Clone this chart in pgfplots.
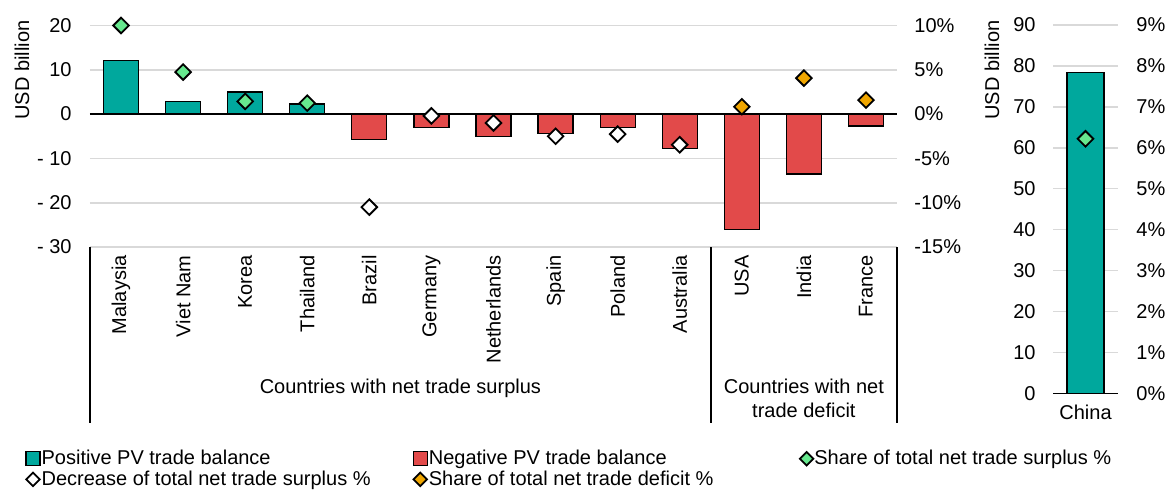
\documentclass[border=0pt]{standalone}
\usepackage{pgfplots}
\pgfplotsset{compat=1.18}
\usepackage{fontspec}
\setmainfont{Liberation Sans}
\definecolor{teal1}{RGB}{0,168,157}
\definecolor{red1}{RGB}{226,74,74}
\definecolor{green1}{RGB}{102,232,142}
\definecolor{orange1}{RGB}{240,166,0}
\definecolor{grid1}{RGB}{217,217,217}
\pgfplotsset{
  diam/.style={only marks, mark=square*, mark size=2.75pt, mark options={rotate=45, draw=black, line width=0.9pt, fill=#1}},
  diamleg/.style={legend image code/.code={\draw[##1, mark size=2.4pt] plot coordinates {(3.5pt,0pt)};}},
  barleg/.style={legend image code/.code={\draw[##1] (0pt,-3.5pt) rectangle (7pt,3.5pt);}},
  barst/.style={ybar, bar width=#1, bar shift=0pt, draw=black, line width=0.6pt},
}
\begin{document}
\begin{tikzpicture}
\path[use as bounding box] (0,0) rectangle (584pt,244.5pt);
% ---------- left panel, USD ----------
\begin{axis}[
  at={(45pt,121pt)}, anchor=south west,
  scale only axis, width=403.5pt, height=110.75pt,
  xmin=-0.5, xmax=12.5, ymin=-30, ymax=20,
  axis x line*=bottom, axis y line*=left, axis line style={draw=none},
  major tick length=0pt,
  ytick={-30,-20,-10,0,10,20},
  yticklabels={- 30,- 20,- 10,0,10,20},
  yticklabel style={inner sep=0pt}, yticklabel shift=9pt,
  xtick={0,...,12},
  xticklabels={Malaysia,Viet Nam,Korea,Thailand,Brazil,Germany,Netherlands,Spain,Poland,Australia,USA,India,France},
  xticklabel style={rotate=90, anchor=east, inner sep=0pt}, xticklabel shift=4pt,
  ymajorgrids, major grid style={grid1, line width=0.8pt},
  clip=false,
  legend columns=3,
  legend style={at={(axis description cs:-0.0805,-0.91)}, anchor=north west, draw=none, fill=none, inner sep=0pt, row sep=0.6pt, column sep=0pt, nodes={inner sep=0.5pt}},
  legend cell align=left,
]
\addplot[barst=17.5pt, fill=teal1, barleg] coordinates {(0,12.1)(1,2.9)(2,5.0)(3,2.3)};
\addlegendentry{\makebox[185pt][l]{Positive PV trade balance}}
\addplot[barst=17.5pt, fill=red1, barleg] coordinates {(4,-5.7)(5,-3.0)(6,-5.0)(7,-4.3)(8,-3.1)(9,-7.7)(10,-26.0)(11,-13.5)(12,-2.7)};
\addlegendentry{\makebox[185pt][l]{Negative PV trade balance}}
\addlegendimage{diam=green1, diamleg}
\addlegendentry{Share of total net trade surplus \%}
\addlegendimage{diam=white, diamleg}
\addlegendentry{\makebox[185pt][l]{Decrease of total net trade surplus \%}}
\addlegendimage{diam=orange1, diamleg}
\addlegendentry{Share of total net trade deficit \%}
\draw[black, line width=0.8pt] (axis cs:-0.5,0) -- (axis cs:12.5,0);
\draw[black, line width=0.8pt] (axis cs:-0.5,-30) -- ++(0pt,-88pt);
\draw[black, line width=0.8pt] (axis cs:9.5,-30) -- ++(0pt,-88pt);
\draw[black, line width=0.8pt] (axis cs:12.5,-30) -- ++(0pt,-88pt);
\node[anchor=base, inner sep=0pt] at ([yshift=-73pt]axis cs:4.5,-30) {Countries with net trade surplus};
\node[anchor=base, inner sep=0pt] at ([yshift=-73pt]axis cs:11,-30) {Countries with net};
\node[anchor=base, inner sep=0pt] at ([yshift=-85pt]axis cs:11,-30) {trade deficit};
\end{axis}
% ---------- left panel, percent ----------
\begin{axis}[
  at={(45pt,121pt)}, anchor=south west,
  scale only axis, width=403.5pt, height=110.75pt,
  xmin=-0.5, xmax=12.5, ymin=-15, ymax=10,
  axis x line=none, axis y line*=right, axis line style={draw=none},
  major tick length=0pt,
  ytick={-15,-10,-5,0,5,10},
  yticklabels={-15\%,-10\%,-5\%,0\%,5\%,10\%},
  yticklabel style={inner sep=0pt}, yticklabel shift=8.5pt,
  clip=false,
]
\addplot[diam=green1] coordinates {(0,10.0)(1,4.74)(2,1.43)(3,1.24)};
\addplot[diam=white] coordinates {(4,-10.5)(5,-0.2)(6,-1.0)(7,-2.5)(8,-2.26)(9,-3.46)};
\addplot[diam=orange1] coordinates {(10,0.83)(11,4.06)(12,1.58)};
\end{axis}
% ---------- China panel, USD ----------
\begin{axis}[
  at={(526.5pt,47.85pt)}, anchor=south west,
  scale only axis, width=32.5pt, height=184.15pt,
  xmin=-0.5, xmax=0.5, ymin=0, ymax=90,
  axis x line*=bottom, axis y line*=left,
  y axis line style={draw=none}, x axis line style={black, line width=0.8pt, -},
  major tick length=0pt,
  ytick={0,10,20,30,40,50,60,70,80,90},
  yticklabels={0,10,20,30,40,50,60,70,80,90},
  yticklabel style={inner sep=0pt}, yticklabel shift=8.5pt,
  xtick={0}, xticklabels={China},
  xticklabel style={inner sep=0pt}, xticklabel shift=5.8pt,
  ymajorgrids, major grid style={grid1, line width=0.8pt},
  clip=false,
]
\addplot[barst=18.5pt, fill=teal1] coordinates {(0,78.4)};
\end{axis}
% ---------- China panel, percent ----------
\begin{axis}[
  at={(526.5pt,47.85pt)}, anchor=south west,
  scale only axis, width=32.5pt, height=184.15pt,
  xmin=-0.5, xmax=0.5, ymin=0, ymax=9,
  axis x line=none, axis y line*=right, axis line style={draw=none},
  major tick length=0pt,
  ytick={0,1,2,3,4,5,6,7,8,9},
  yticklabels={0\%,1\%,2\%,3\%,4\%,5\%,6\%,7\%,8\%,9\%},
  yticklabel style={inner sep=0pt}, yticklabel shift=9pt,
  clip=false,
]
\addplot[diam=green1] coordinates {(0,6.22)};
\end{axis}
\node[rotate=90, inner sep=0pt] at (11pt,209.5pt) {USD billion};
\node[rotate=90, inner sep=0pt] at (496pt,209.5pt) {USD billion};
\end{tikzpicture}
\end{document}
